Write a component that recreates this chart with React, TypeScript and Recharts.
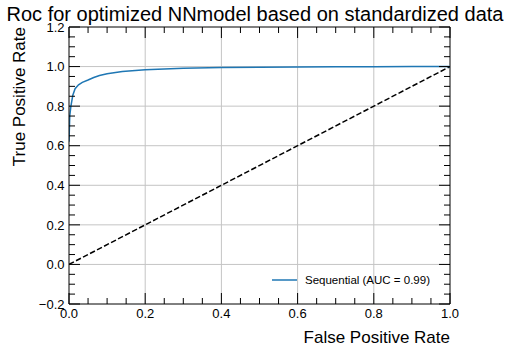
import React from 'react';
import { LineChart, Line, XAxis, YAxis, ReferenceLine, Legend } from 'recharts';

// ROC curve of the optimized NN model
const fpr = [0, 0.002, 0.005, 0.01, 0.016, 0.025, 0.035, 0.05, 0.065, 0.08, 0.1, 0.14, 0.2, 0.3, 0.4, 0.5, 0.6, 0.7, 0.8, 0.9, 1.0];
const tpr = [0.62, 0.75, 0.8, 0.855, 0.888, 0.908, 0.92, 0.932, 0.945, 0.955, 0.964, 0.975, 0.984, 0.992, 0.995, 0.997, 0.998, 0.999, 0.9995, 0.9998, 1.0];

// chance diagonal
const chanceFpr = [0, 1];
const chanceTpr = [0, 1];

const seriesName = 'Sequential (AUC = 0.99)';

const xMajorTicks = [0, 0.2, 0.4, 0.6, 0.8, 1.0];
const xMinorTicks = [0.05, 0.1, 0.15, 0.25, 0.3, 0.35, 0.45, 0.5, 0.55, 0.65, 0.7, 0.75, 0.85, 0.9, 0.95];
const yMajorTicks = [-0.2, 0, 0.2, 0.4, 0.6, 0.8, 1.0, 1.2];
const yMinorTicks = [-0.15, -0.1, -0.05, 0.05, 0.1, 0.15, 0.25, 0.3, 0.35, 0.45, 0.5, 0.55, 0.65, 0.7, 0.75, 0.85, 0.9, 0.95, 1.05, 1.1, 1.15];

const rocData = fpr.map((f, i) => ({ fpr: f, tpr: tpr[i] }));
const chanceData = chanceFpr.map((f, i) => ({ fpr: f, tpr: chanceTpr[i] }));

const W = 510;
const H = 352;
const X_AXIS_H = 30;
const Y_AXIS_W = 40;
// plot area: x 69..450, y 27..304
const M = { top: 27, right: 60, bottom: 48 - X_AXIS_H, left: 69 - Y_AXIS_W };
const PLOT_W = W - 69 - M.right;
const PLOT_H = H - M.top - 48;
const FONT = '"Liberation Sans", Arial, Helvetica, sans-serif';
const MAJOR_LEN = 11;
const MINOR_LEN = 6;

const isMajor = (v: number, majors: number[]) => majors.some((m) => Math.abs(m - v) < 1e-9);
const fmt = (v: number) => (Math.abs(v) < 1e-9 ? '0.0' : v.toFixed(1).replace('-', '\u2212'));

const XTick = (props: any) => {
  const { x, y, payload } = props;
  const v = payload.value as number;
  const major = isMajor(v, xMajorTicks);
  const len = major ? MAJOR_LEN : MINOR_LEN;
  return (
    <g>
      <line x1={x} x2={x} y1={y} y2={y - len} stroke="#000" strokeWidth={1} />
      <line x1={x} x2={x} y1={y - PLOT_H} y2={y - PLOT_H + len} stroke="#000" strokeWidth={1} />
      {major && (
        <text x={x} y={y + 14} textAnchor="middle" fontSize={13} fontFamily={FONT} fill="#000">
          {fmt(v)}
        </text>
      )}
    </g>
  );
};

const YTick = (props: any) => {
  const { x, y, payload } = props;
  const v = payload.value as number;
  const major = isMajor(v, yMajorTicks);
  const len = major ? MAJOR_LEN : MINOR_LEN;
  return (
    <g>
      <line x1={x} x2={x + len} y1={y} y2={y} stroke="#000" strokeWidth={1} />
      <line x1={x + PLOT_W} x2={x + PLOT_W - len} y1={y} y2={y} stroke="#000" strokeWidth={1} />
      {major && (
        <text x={x - 4.5} y={y} dy="0.36em" textAnchor="end" fontSize={13} fontFamily={FONT} fill="#000">
          {fmt(v)}
        </text>
      )}
    </g>
  );
};

const LegendContent = () => (
  <div style={{ display: 'flex', alignItems: 'center', fontFamily: FONT, fontSize: 11.5, color: '#000', whiteSpace: 'nowrap' }}>
    <svg width={25} height={6} style={{ marginRight: 8 }}>
      <line x1={0} x2={25} y1={3} y2={3} stroke="#1f77b4" strokeWidth={1.5} />
    </svg>
    <span>{seriesName}</span>
  </div>
);

export default function App() {
  return (
    <div style={{ position: 'absolute', left: 0, top: 0, width: W, height: H, background: '#fff' }}>
      <div
        style={{
          position: 'absolute',
          left: 0,
          width: W,
          top: 3,
          textAlign: 'center',
          fontFamily: FONT,
          fontSize: 20,
          lineHeight: '22px',
          color: '#000',
          whiteSpace: 'nowrap',
          zIndex: 2,
        }}
      >
        Roc for optimized NNmodel based on standardized data
      </div>
      <LineChart width={W} height={H} margin={M}>
        <XAxis
          dataKey="fpr"
          type="number"
          domain={[0, 1]}
          ticks={[...xMajorTicks, ...xMinorTicks].sort((a, b) => a - b)}
          interval={0}
          height={X_AXIS_H}
          tickSize={0}
          tickMargin={0}
          tickLine={false}
          axisLine={{ stroke: '#000', strokeWidth: 1 }}
          tick={<XTick />}
          allowDataOverflow
          label={{
            content: ({ viewBox }: any) => (
              <text
                x={viewBox.x + viewBox.width}
                y={viewBox.y + 39}
                textAnchor="end"
                fontSize={17}
                fontFamily={FONT}
                fill="#000"
              >
                False Positive Rate
              </text>
            ),
          }}
        />
        <YAxis
          dataKey="tpr"
          type="number"
          domain={[-0.2, 1.2]}
          ticks={[...yMajorTicks, ...yMinorTicks].sort((a, b) => a - b)}
          interval={0}
          width={Y_AXIS_W}
          tickSize={0}
          tickMargin={0}
          tickLine={false}
          axisLine={{ stroke: '#000', strokeWidth: 1 }}
          tick={<YTick />}
          allowDataOverflow
          label={{
            content: ({ viewBox }: any) => (
              <text
                x={25}
                y={viewBox.y}
                transform={`rotate(-90, 25, ${viewBox.y})`}
                textAnchor="end"
                fontSize={17}
                fontFamily={FONT}
                fill="#000"
              >
                True Positive Rate
              </text>
            ),
          }}
        />
        {xMajorTicks.slice(1, -1).map((v) => (
          <ReferenceLine key={`gx${v}`} x={v} stroke="#c4c4c4" strokeWidth={1} />
        ))}
        {yMajorTicks.slice(1, -1).map((v) => (
          <ReferenceLine key={`gy${v}`} y={v} stroke="#c4c4c4" strokeWidth={1} />
        ))}
        <ReferenceLine x={1} stroke="#000" strokeWidth={1} />
        <ReferenceLine y={1.2} stroke="#000" strokeWidth={1} />
        <Line
          data={chanceData}
          dataKey="tpr"
          type="linear"
          stroke="#000"
          strokeWidth={1.5}
          strokeDasharray="5.5 2.4"
          dot={false}
          activeDot={false}
          isAnimationActive={false}
          legendType="none"
        />
        <Line
          data={rocData}
          dataKey="tpr"
          name={seriesName}
          type="linear"
          stroke="#1f77b4"
          strokeWidth={1.5}
          dot={false}
          activeDot={false}
          isAnimationActive={false}
        />
        <Legend
          layout="horizontal"
          verticalAlign="middle"
          align="center"
          content={<LegendContent />}
          wrapperStyle={{ left: 272, top: 274, width: 180, height: 14 }}
        />
      </LineChart>
    </div>
  );
}
